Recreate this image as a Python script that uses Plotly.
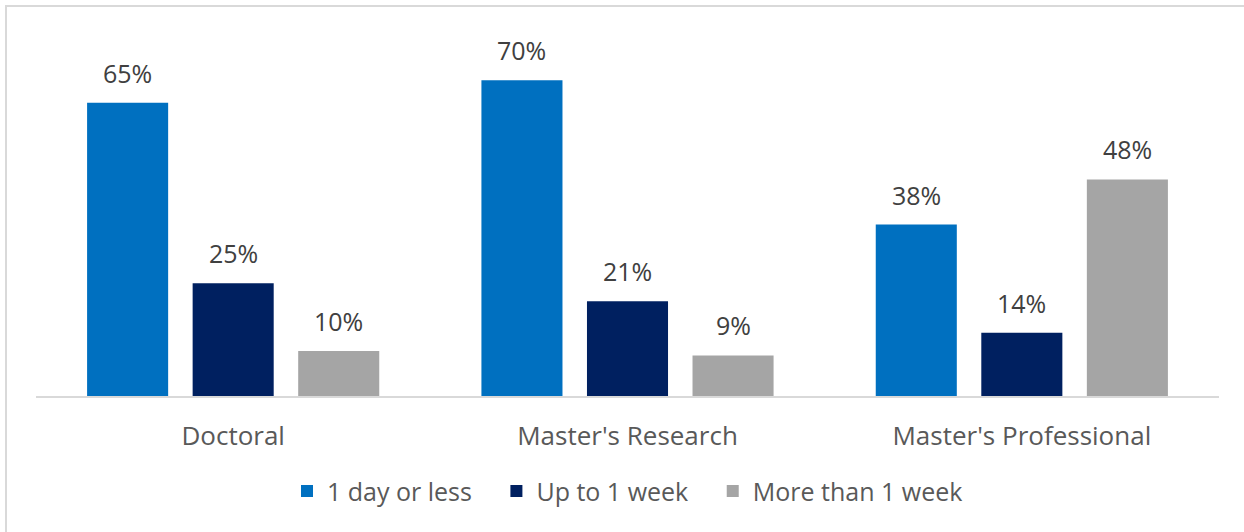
import plotly.graph_objects as go

categories = ["Doctoral", "Master's Research", "Master's Professional"]
series_names = ["1 day or less", "Up to 1 week", "More than 1 week"]
one_day_or_less = [65, 70, 38]
up_to_1_week = [25, 21, 14]
more_than_1_week = [10, 9, 48]
colors = ["#0070C0", "#002060", "#A5A5A5"]

W, H = 1244, 532
ml, mr, mt, mb = 36, 25, 35, 136
BARGAP, GROUPGAP = 0.197, 0.232
LEGEND_PAD = "\u00a0\u00a0\u00a0"  # extra room between legend entries

series = [one_day_or_less, up_to_1_week, more_than_1_week]

fig = go.Figure()
for k, (name, vals, col) in enumerate(zip(series_names, series, colors)):
    fig.add_trace(go.Bar(
        name=name + (LEGEND_PAD if k < len(series) - 1 else ""),
        x=categories, y=vals, marker_color=col,
        marker_line_width=0,
    ))

# value labels sit a little above each bar, centred on its slot in the group
slot = (1 - BARGAP) / len(series)
for k, vals in enumerate(series):
    for i, v in enumerate(vals):
        fig.add_annotation(
            x=i + (k - (len(series) - 1) / 2) * slot, y=v, xref="x", yref="y",
            text=f"{v}%", showarrow=False, yanchor="bottom", yshift=11,
            font=dict(family="Open Sans", size=25, color="#404040"),
        )

pw, ph = W - ml - mr, H - mt - mb
# light outer frame, drawn in paper units relative to the plot area
fig.add_shape(type="rect", xref="paper", yref="paper",
              x0=(6 - ml) / pw, x1=(W + 20 - ml) / pw,
              y0=(H - mb - (H + 20)) / ph, y1=(H - mb - 6) / ph,
              line=dict(color="#D9D9D9", width=2), fillcolor="rgba(0,0,0,0)", layer="below")

fig.update_layout(
    width=W, height=H,
    margin=dict(l=ml, r=mr, t=mt, b=mb),
    paper_bgcolor="white", plot_bgcolor="white",
    barmode="group", bargap=BARGAP, bargroupgap=GROUPGAP,
    font=dict(family="Open Sans", color="#595959"),
    showlegend=True,
    legend=dict(orientation="h", x=0.5, xanchor="center", y=-0.2, yanchor="top",
                font=dict(size=25, color="#595959"), itemwidth=30,
                traceorder="normal"),
)
fig.update_xaxes(showline=True, linecolor="#D9D9D9", linewidth=2, ticks="",
                 tickfont=dict(size=26, color="#595959"), ticklabelstandoff=16,
                 showgrid=False, fixedrange=True, automargin=False)
fig.update_yaxes(range=[0, 80], visible=False, showgrid=False, fixedrange=True)

fig.write_html("out.html", config={"displayModeBar": False})
